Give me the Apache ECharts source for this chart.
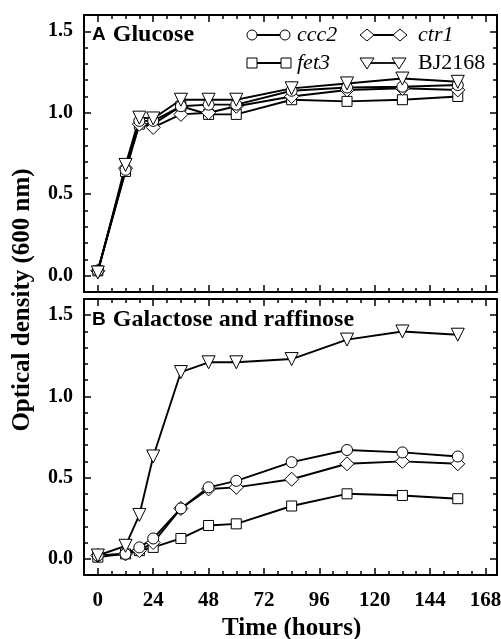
<!DOCTYPE html>
<html>
<head>
<meta charset="utf-8">
<script src="https://cdn.jsdelivr.net/npm/echarts@6/dist/echarts.min.js"></script>
<style>
  html, body { margin: 0; padding: 0; background: #fff; }
  #chart { width: 501px; height: 639px; }
</style>
</head>
<body>
<div id="chart"></div>
<script>
// sampling times (hours)
const hours = [0, 12, 18, 24, 36, 48, 60, 84, 108, 132, 156];

// A: glucose
const glcCcc2 = [0.03, 0.65, 0.95, 0.95, 1.04, 1.05, 1.05, 1.135, 1.155, 1.16, 1.17];
const glcCtr1 = [0.03, 0.66, 0.93, 0.91, 0.99, 1.00, 1.04, 1.10, 1.14, 1.15, 1.14];
const glcFet3 = [0.03, 0.64, 0.93, 0.93, 1.04, 0.99, 0.99, 1.08, 1.07, 1.08, 1.10];
const glcBJ   = [0.02, 0.68, 0.97, 0.965, 1.08, 1.08, 1.08, 1.15, 1.18, 1.21, 1.19];

// B: galactose and raffinose
const galCcc2 = [0.02, 0.03, 0.07, 0.125, 0.31, 0.44, 0.48, 0.595, 0.67, 0.655, 0.63];
const galCtr1 = [0.02, 0.03, 0.05, 0.10, 0.31, 0.43, 0.44, 0.49, 0.585, 0.60, 0.585];
const galFet3 = [0.01, 0.03, 0.05, 0.07, 0.125, 0.205, 0.215, 0.325, 0.40, 0.39, 0.37];
const galBJ   = [0.02, 0.08, 0.27, 0.63, 1.15, 1.21, 1.21, 1.23, 1.35, 1.40, 1.38];

// axis ranges / tick steps
const xRange = [-6, 173], xMajorRange = [0, 168], xMajorStep = 24, xMinorStep = 6;
const yRange = [-0.1, 1.6], yMajorRange = [0, 1.5], yMajorStep = 0.5, yMinorStep = 0.1;

const serif = 'Liberation Serif';
const sans = 'Liberation Sans';

// plot boxes in px
const panels = [
  { left: 84, top: 15, width: 413, height: 277 },
  { left: 84, top: 299, width: 413, height: 276 }
];

const chart = echarts.init(document.getElementById('chart'), null, { renderer: 'canvas' });

const tickLine = { color: '#000', width: 1.5 };
const frameLine = { show: true, onZero: false, lineStyle: { color: '#000', width: 2 } };
const labelFont = { color: '#000', fontFamily: serif, fontWeight: 'bold' };

const grids = [], xAxes = [], yAxes = [];

panels.forEach((p, k) => {
  const pxH = p.width / (xRange[1] - xRange[0]);
  const pxV = p.height / (yRange[1] - yRange[0]);
  const offL = (xMajorRange[0] - xRange[0]) * pxH;
  const offR = (xRange[1] - xMajorRange[1]) * pxH;
  const offT = (yRange[1] - yMajorRange[1]) * pxV;
  const offB = (yMajorRange[0] - yRange[0]) * pxV;
  const gMain = grids.length;
  // main box: true scale, minor ticks, frame
  grids.push({ left: p.left, top: p.top, width: p.width, height: p.height, outerBoundsMode: 'none' });
  // major tick box: spans the major tick range, axes pushed out onto the frame
  grids.push({
    left: p.left + offL, top: p.top + offT,
    width: p.width - offL - offR, height: p.height - offT - offB,
    outerBoundsMode: 'none'
  });
  ['bottom', 'top'].forEach(pos => {
    xAxes.push({
      type: 'value', gridIndex: gMain, position: pos, min: xRange[0], max: xRange[1], interval: xMinorStep,
      axisLine: frameLine, axisTick: { inside: true, length: 4, lineStyle: tickLine },
      axisLabel: { show: false }, splitLine: { show: false }
    });
  });
  ['bottom', 'top'].forEach(pos => {
    const ax = {
      type: 'value', gridIndex: gMain + 1, position: pos, offset: pos === 'bottom' ? offB : offT,
      min: xMajorRange[0], max: xMajorRange[1], interval: xMajorStep,
      axisLine: { show: false, onZero: false },
      axisTick: { show: true, inside: true, length: 7, lineStyle: tickLine },
      axisLabel: Object.assign({ show: pos === 'bottom' && k === 1, fontSize: 21, margin: 15 }, labelFont),
      splitLine: { show: false }
    };
    if (pos === 'bottom' && k === 1) {
      ax.name = 'Time (hours)';
      ax.nameLocation = 'middle';
      ax.nameGap = 41;
      ax.nameTextStyle = Object.assign({ fontSize: 25 }, labelFont);
    }
    xAxes.push(ax);
  });
  ['left', 'right'].forEach(pos => {
    yAxes.push({
      type: 'value', gridIndex: gMain, position: pos, min: yRange[0], max: yRange[1], interval: yMinorStep,
      axisLine: frameLine, axisTick: { inside: true, length: 4, lineStyle: tickLine },
      axisLabel: { show: false }, splitLine: { show: false }
    });
  });
  ['left', 'right'].forEach(pos => {
    yAxes.push({
      type: 'value', gridIndex: gMain + 1, position: pos, offset: pos === 'left' ? offL : offR,
      min: yMajorRange[0], max: yMajorRange[1], interval: yMajorStep,
      axisLine: { show: false, onZero: false },
      axisTick: { show: true, inside: true, length: 7, lineStyle: tickLine },
      axisLabel: Object.assign({ show: pos === 'left', fontSize: 20, margin: 11, formatter: v => v.toFixed(1) }, labelFont),
      splitLine: { show: false }
    });
  });
});

const styles = {
  ccc2: { symbol: 'circle', symbolSize: 11, symbolRotate: 0 },
  ctr1: { symbol: 'diamond', symbolSize: 14, symbolRotate: 0 },
  fet3: { symbol: 'rect', symbolSize: 10, symbolRotate: 0 },
  BJ2168: { symbol: 'triangle', symbolSize: 13, symbolRotate: 180 }
};

// panel k uses x/y axis index 4*k (main grid, true scale)
function mkSeries(name, vals, k) {
  const s = styles[name];
  return {
    name: name,
    type: 'line',
    xAxisIndex: k * 4,
    yAxisIndex: k * 4,
    data: hours.map((h, i) => [h, vals[i]]),
    symbol: s.symbol,
    symbolSize: s.symbolSize,
    symbolRotate: s.symbolRotate,
    showAllSymbol: true,
    lineStyle: { color: '#000', width: 1.9 },
    itemStyle: { color: '#fff', borderColor: '#000', borderWidth: 1 },
    emphasis: { disabled: true },
    animation: false
  };
}

// legend drawn as symbol—line—symbol, like the original
function legendItem(kind, x1, x2, y, label, italic, tx) {
  const st = { fill: '#fff', stroke: '#000', lineWidth: 1 };
  const mark = x => {
    if (kind === 'circle') return { type: 'circle', shape: { cx: x, cy: y, r: 5 }, style: st };
    if (kind === 'rect') return { type: 'rect', shape: { x: x - 5, y: y - 5, width: 10, height: 10 }, style: st };
    if (kind === 'diamond') return { type: 'polygon', shape: { points: [[x, y - 6], [x + 7, y], [x, y + 6], [x - 7, y]] }, style: st };
    return { type: 'polygon', shape: { points: [[x - 7, y - 5], [x + 7, y - 5], [x, y + 6]] }, style: st };
  };
  return [
    { type: 'line', shape: { x1: x1, y1: y, x2: x2, y2: y }, style: { stroke: '#000', lineWidth: 1.8 } },
    mark(x1), mark(x2),
    { type: 'text', x: tx, y: y, style: { text: label, fill: '#000', font: (italic ? 'italic ' : '') + '22px "' + serif + '"', verticalAlign: 'middle' } }
  ];
}

const panelTitle = (letter, text, y) => ({
  type: 'text', x: 92, y: y,
  style: {
    text: '{a|' + letter + '}{b|' + text + '}',
    rich: {
      a: { fontFamily: sans, fontWeight: 'bold', fontSize: 19, fill: '#000', padding: [0, 7, 0, 0] },
      b: { fontFamily: serif, fontWeight: 'bold', fontSize: 24, fill: '#000' }
    },
    verticalAlign: 'middle'
  }
});

const graphics = [].concat(
  legendItem('circle', 252, 285, 35, 'ccc2', true, 297),
  legendItem('diamond', 367, 400, 35, 'ctr1', true, 418),
  legendItem('rect', 252, 286, 63, 'fet3', true, 297),
  legendItem('triangle', 367, 399, 63, 'BJ2168', false, 418),
  [
    panelTitle('A', 'Glucose', 35),
    panelTitle('B', 'Galactose and raffinose', 320),
    {
      type: 'text', x: 23, y: 300, rotation: Math.PI / 2,
      style: {
        text: 'Optical density (600 nm)', fill: '#000',
        font: 'bold 25px "' + serif + '"',
        align: 'center', verticalAlign: 'middle'
      }
    }
  ]
);

const option = {
  backgroundColor: '#fff',
  animation: false,
  grid: grids,
  xAxis: xAxes,
  yAxis: yAxes,
  series: [
    mkSeries('fet3', glcFet3, 0),
    mkSeries('ctr1', glcCtr1, 0),
    mkSeries('ccc2', glcCcc2, 0),
    mkSeries('BJ2168', glcBJ, 0),
    mkSeries('fet3', galFet3, 1),
    mkSeries('ctr1', galCtr1, 1),
    mkSeries('ccc2', galCcc2, 1),
    mkSeries('BJ2168', galBJ, 1)
  ],
  graphic: graphics
};

chart.setOption(option);
</script>
</body>
</html>
